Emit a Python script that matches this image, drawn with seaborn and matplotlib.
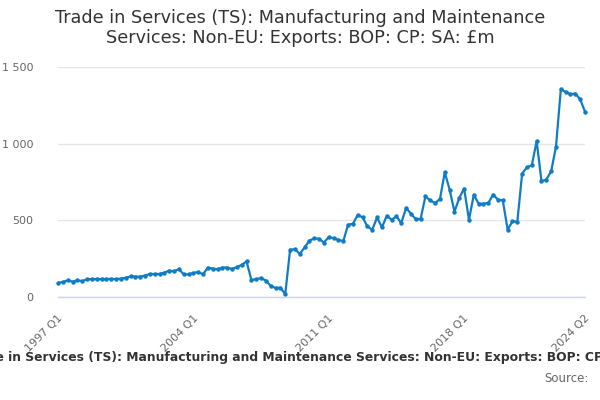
import matplotlib
matplotlib.use("Agg")
import matplotlib.pyplot as plt
import matplotlib.transforms as mtransforms
import numpy as np
import pandas as pd
import seaborn as sns

# Quarterly periods, 1997 Q1 .. 2024 Q2
periods = [f"{y} Q{q}" for y in range(1997, 2025) for q in range(1, 5)][:110]

# Exports, £m
values = [
    92, 98, 108, 100, 108, 104, 115, 117, 117, 117,
    117, 118, 117, 120, 125, 134, 133, 133, 140, 150,
    150, 150, 159, 172, 168, 181, 148, 148, 157, 163,
    148, 192, 185, 181, 192, 192, 183, 195, 210, 232,
    111, 116, 124, 107, 72, 59, 61, 18, 308, 312,
    281, 323, 368, 382, 380, 355, 390, 384, 373, 364,
    471, 478, 535, 519, 460, 439, 519, 454, 530, 504,
    526, 482, 581, 543, 508, 510, 656, 630, 613, 639,
    813, 700, 556, 646, 707, 504, 666, 609, 609, 613,
    668, 635, 630, 439, 493, 491, 805, 846, 859, 1017,
    755, 766, 820, 980, 1355, 1337, 1322, 1327, 1289, 1209,
]

label_periods = ["1997 Q1", "2004 Q1", "2011 Q1", "2018 Q1", "2024 Q2"]
y_ticks = [0, 500, 1000, 1500]

title = "Trade in Services (TS): Manufacturing and Maintenance\nServices: Non-EU: Exports: BOP: CP: SA: £m"
series_name = "Trade in Services (TS): Manufacturing and Maintenance Services: Non-EU: Exports: BOP: CP: SA: £m"

df = pd.DataFrame({"period": periods, "value": values})
df["pos"] = np.arange(len(df))

sns.set_style("white")
plt.rcParams["font.family"] = ["DejaVu Sans"]

line_color = "#0f7cc4"
axis_color = "#ccd6eb"
label_color = "#666666"

fig = plt.figure(figsize=(6, 4), dpi=100)
ax = fig.add_axes([58 / 600, 1 - 297 / 400, (585 - 58) / 600, (297 - 67) / 400])

sns.lineplot(data=df, x="pos", y="value", ax=ax, color=line_color, linewidth=1.6,
             marker="o", markersize=3.2, markeredgewidth=0, clip_on=False)

ax.set_xlim(0, len(df) - 1)
ax.set_ylim(0, 1500)
ax.set_xlabel("")
ax.set_ylabel("")

# x ticks every 7 quarters plus the last one, labelled sparsely
tick_pos = list(range(0, len(df), 7)) + [len(df) - 1]
tick_lab = [periods[p] if periods[p] in label_periods else "" for p in tick_pos]
ax.set_xticks(tick_pos)
ax.set_xticklabels(tick_lab)
ax.tick_params(axis="x", length=10, width=1, color=axis_color, labelcolor=label_color,
               labelsize=8, pad=4)
offset = mtransforms.ScaledTranslation(3 / 100, 0, fig.dpi_scale_trans)
for lab in ax.get_xticklabels():
    lab.set_rotation(45)
    lab.set_ha("right")
    lab.set_va("center")
    lab.set_rotation_mode("anchor")
    lab.set_transform(lab.get_transform() + offset)

ax.set_yticks(y_ticks)
ax.set_yticklabels([f"{v:,}".replace(",", " ") for v in y_ticks])
ax.tick_params(axis="y", length=0, labelcolor=label_color, labelsize=8, pad=18)

ax.yaxis.grid(True, color="#e6e6e6", linewidth=1)
ax.set_axisbelow(True)
for side in ["top", "right", "left"]:
    ax.spines[side].set_visible(False)
ax.spines["bottom"].set_color(axis_color)
ax.spines["bottom"].set_linewidth(1)

fig.text(0.5, 1 - 28 / 400, title, ha="center", va="center", fontsize=12.7,
         color="#333333", linespacing=1.15)
fig.text(313 / 600, 1 - 358 / 400, series_name, ha="center", va="center", fontsize=8.9,
         fontweight="bold", color="#333333")
fig.text(589 / 600, 1 - 379 / 400, "Source:", ha="right", va="center", fontsize=8.5,
         color=label_color)

fig.savefig("out.png", dpi=100)
